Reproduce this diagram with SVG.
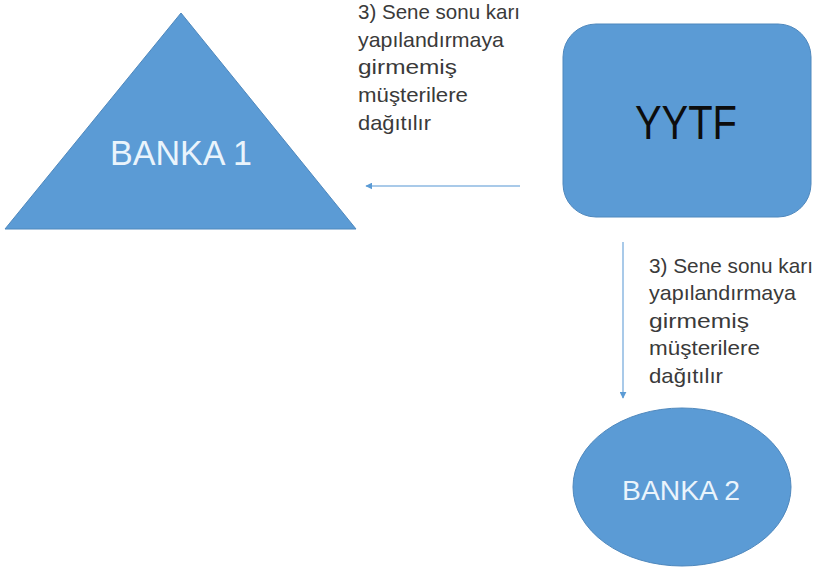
<svg xmlns="http://www.w3.org/2000/svg" width="821" height="569" viewBox="0 0 821 569">
<defs>
<style>
.shape{fill:#5B9BD5;stroke:#4F88BD;stroke-width:1}
.lbl{font-family:"Liberation Sans",Arial,sans-serif;font-size:21px;fill:#3A3A3A}
.inner{font-family:"Liberation Sans",Arial,sans-serif;fill:#EAF4FC}
.conn{stroke:#8DB8E2;stroke-width:1.5;fill:none}
</style>
<marker id="arr" viewBox="0 0 10 10" refX="9" refY="5" markerWidth="7" markerHeight="7" markerUnits="userSpaceOnUse" orient="auto">
<path d="M0,0 L10,5 L0,10 z" fill="#5B9BD5"/>
</marker>
</defs>
<rect width="821" height="569" fill="#FFFFFF"/>
<g id="banka1">
<polygon class="shape" points="181,13 356,229 5,229"/>
<text class="inner" x="181" y="165" font-size="35" text-anchor="middle" textLength="142" lengthAdjust="spacingAndGlyphs">BANKA 1</text>
</g>
<g id="yytf">
<rect class="shape" x="563" y="24" width="248" height="193" rx="33" ry="33"/>
<text x="686" y="139" font-family="Liberation Sans,Arial,sans-serif" font-size="49" fill="#0D0D0D" text-anchor="middle" textLength="102" lengthAdjust="spacingAndGlyphs">YYTF</text>
</g>
<g id="banka2">
<ellipse class="shape" cx="682" cy="487" rx="109" ry="79"/>
<text class="inner" x="681" y="500" font-size="28" text-anchor="middle" textLength="118" lengthAdjust="spacingAndGlyphs">BANKA 2</text>
</g>
<g id="connectors">
<line class="conn" x1="520" y1="186" x2="366" y2="186" marker-end="url(#arr)"/>
<line class="conn" x1="623" y1="242" x2="623" y2="398" marker-end="url(#arr)"/>
</g>
<g id="label-top">
<text class="lbl" x="358" y="19" textLength="162" lengthAdjust="spacingAndGlyphs">3) Sene sonu karı</text>
<text class="lbl" x="358" y="47" textLength="146" lengthAdjust="spacingAndGlyphs">yapılandırmaya</text>
<text class="lbl" x="358" y="74" textLength="99" lengthAdjust="spacingAndGlyphs">girmemiş</text>
<text class="lbl" x="358" y="102" textLength="110" lengthAdjust="spacingAndGlyphs">müşterilere</text>
<text class="lbl" x="358" y="130" textLength="73" lengthAdjust="spacingAndGlyphs">dağıtılır</text>
</g>
<g id="label-bottom">
<text class="lbl" x="649" y="273" textLength="164" lengthAdjust="spacingAndGlyphs">3) Sene sonu karı</text>
<text class="lbl" x="649" y="300" textLength="147" lengthAdjust="spacingAndGlyphs">yapılandırmaya</text>
<text class="lbl" x="649" y="328" textLength="100" lengthAdjust="spacingAndGlyphs">girmemiş</text>
<text class="lbl" x="649" y="355" textLength="111" lengthAdjust="spacingAndGlyphs">müşterilere</text>
<text class="lbl" x="649" y="383" textLength="74" lengthAdjust="spacingAndGlyphs">dağıtılır</text>
</g>
</svg>
